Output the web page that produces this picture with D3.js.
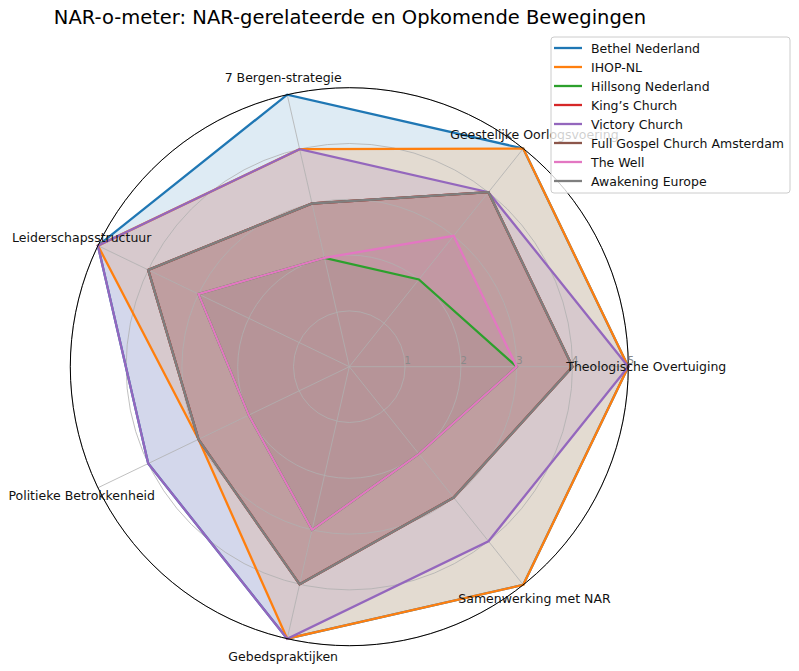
<!DOCTYPE html>
<html>
<head>
<meta charset="utf-8">
<script src="https://cdn.jsdelivr.net/npm/d3@7/dist/d3.min.js"></script>
<style>
  html, body { margin: 0; padding: 0; background: #fff; }
  svg { display: block; font-family: "DejaVu Sans", sans-serif; }
</style>
</head>
<body>
<svg id="chart" width="799" height="671"></svg>
<script>
const categories = ["Theologische Overtuiging", "Geestelijke Oorlogsvoering", "7 Bergen-strategie",
  "Leiderschapsstructuur", "Politieke Betrokkenheid", "Gebedspraktijken", "Samenwerking met NAR"];
const seriesNames = ["Bethel Nederland", "IHOP-NL", "Hillsong Nederland", "King’s Church",
  "Victory Church", "Full Gospel Church Amsterdam", "The Well", "Awakening Europe"];
const bethel      = [5, 5, 5, 5, 4, 5, 5];
const ihop        = [5, 5, 4, 5, 3, 5, 5];
const hillsong    = [3, 2, 2, 3, 2, 3, 2];
const kings       = [4, 4, 3, 4, 3, 4, 3];
const victory     = [5, 4, 4, 5, 4, 5, 4];
const fullGospel  = [4, 4, 3, 4, 3, 4, 3];
const theWell     = [3, 3, 2, 3, 2, 3, 2];
const awakening   = [4, 4, 3, 4, 3, 4, 3];
const rTicks = [1, 2, 3, 4, 5];
const title = "NAR-o-meter: NAR-gerelateerde en Opkomende Bewegingen";

const seriesValues = [bethel, ihop, hillsong, kings, victory, fullGospel, theWell, awakening];
const colors = ["#1f77b4", "#ff7f0e", "#2ca02c", "#d62728", "#9467bd", "#8c564b", "#e377c2", "#7f7f7f"];

const svg = d3.select("#chart");
const cx = 349.3, cy = 366.7, R = 279;
const r = d3.scaleLinear().domain([0, 5]).range([0, R]);
const theta = d3.scaleLinear().domain([0, categories.length]).range([0, 2 * Math.PI]);
const d3Angle = i => Math.PI / 2 - theta(i);

const g = svg.append("g").attr("transform", `translate(${cx},${cy})`);
const radial = d3.lineRadial().angle((d, i) => d3Angle(i)).radius(d => r(d)).curve(d3.curveLinearClosed);

// fills
seriesValues.forEach((vals, k) => {
  g.append("path").attr("d", radial(vals)).attr("fill", colors[k]).attr("fill-opacity", 0.15).attr("stroke", "none");
});

// grid
rTicks.forEach(t => {
  g.append("circle").attr("r", r(t)).attr("fill", "none").attr("stroke", "#b0b0b0").attr("stroke-width", 0.8);
});
categories.forEach((c, i) => {
  g.append("line").attr("x1", 0).attr("y1", 0)
    .attr("x2", r(5) * Math.cos(theta(i))).attr("y2", -r(5) * Math.sin(theta(i)))
    .attr("stroke", "#b0b0b0").attr("stroke-width", 0.8);
});

// lines
seriesValues.forEach((vals, k) => {
  g.append("path").attr("d", radial(vals)).attr("fill", "none").attr("stroke", colors[k])
    .attr("stroke-width", 2.3).attr("stroke-linejoin", "miter");
});

// spine
g.append("circle").attr("r", R).attr("fill", "none").attr("stroke", "#000").attr("stroke-width", 1);

// radial tick labels
rTicks.forEach(t => {
  svg.append("text").attr("x", cx + r(t) - 0.5).attr("y", cy - 2.4)
    .attr("font-size", "10px").attr("fill", "#8a8a8a").text(t);
});

// category labels
categories.forEach((c, i) => {
  svg.append("text").attr("x", cx + 297 * Math.cos(theta(i))).attr("y", cy - 297 * Math.sin(theta(i)))
    .attr("text-anchor", "middle").attr("dominant-baseline", "central")
    .attr("font-size", "12.5px").attr("fill", "#111").text(c);
});

// title
svg.append("text").attr("x", 350).attr("y", 24).attr("text-anchor", "middle")
  .attr("font-size", "19.5px").attr("fill", "#000").text(title);

// legend
const lg = svg.append("g");
lg.append("rect").attr("x", 551).attr("y", 37).attr("width", 239).attr("height", 156)
  .attr("rx", 3).attr("fill", "#fff").attr("fill-opacity", 0.8).attr("stroke", "#cccccc").attr("stroke-width", 1);
seriesNames.forEach((n, k) => {
  const y = 48 + k * 19;
  lg.append("line").attr("x1", 554).attr("x2", 582).attr("y1", y).attr("y2", y)
    .attr("stroke", colors[k]).attr("stroke-width", 2.3);
  lg.append("text").attr("x", 591).attr("y", y).attr("dominant-baseline", "central")
    .attr("font-size", "12.5px").attr("fill", "#111").text(n);
});
</script>
</body>
</html>
